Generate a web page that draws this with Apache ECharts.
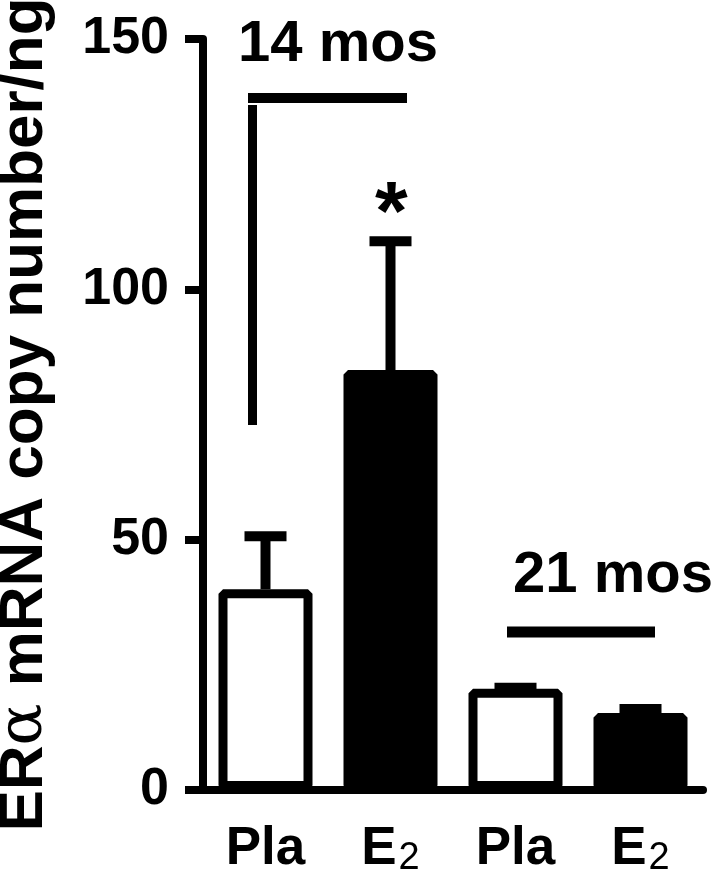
<!DOCTYPE html>
<html>
<head>
<meta charset="utf-8">
<script src="https://cdn.jsdelivr.net/npm/echarts@6/dist/echarts.min.js"></script>
<style>
  html, body { margin: 0; padding: 0; background: #fff; }
  #chart { width: 720px; height: 872px; }
</style>
</head>
<body>
<div id="chart"></div>
<script>
// groups: 14 months (Pla, E2), 21 months (Pla, E2)
var categories = ['Pla', 'E2', 'Pla', 'E2'];
var means = [40.1, 83.9, 20.2, 15.4];
var upper = [50.7, 109.6, 20.4, 16.2];   // mean + SEM
var yTicks = [0, 50, 100, 150];

var FONT = 'Liberation Sans, Arial, sans-serif';

var barData = means.map(function (v, i) {
    var filled = categories[i] === 'E2';
    return {
        value: v,
        itemStyle: { color: filled ? '#000' : '#fff' }
    };
});

var errData = means.map(function (v, i) {
    return [i, v, upper[i]];
});

var chart = echarts.init(document.getElementById('chart'));

chart.setOption({
    animation: false,
    textStyle: { fontFamily: FONT, color: '#000' },
    grid: { left: 203, right: 17, top: 39, bottom: 82, containLabel: false, outerBoundsMode: 'none' },
    xAxis: {
        type: 'category',
        data: categories,
        axisLine: { lineStyle: { color: '#000', width: 8 } },
        axisTick: { alignWithLabel: true, length: 18, lineStyle: { color: '#000', width: 8 } },
        axisLabel: {
            margin: 30,
            color: '#000',
            formatter: function (v) {
                return v === 'E2' ? '{b|E}{s|2}' : '{b|' + v + '}';
            },
            rich: {
                b: { fontSize: 53, fontWeight: 'bold', fontFamily: FONT, color: '#000', lineHeight: 58 },
                s: { fontSize: 38, fontWeight: 'normal', fontFamily: FONT, color: '#000',
                     lineHeight: 38, verticalAlign: 'bottom', padding: [0, 0, 0, 2] }
            }
        },
        splitLine: { show: false }
    },
    yAxis: {
        type: 'value',
        min: 0,
        max: 150,
        interval: 50,
        name: '{b|ER}{a|α}{b| mRNA copy number/ng}',
        nameLocation: 'middle',
        nameGap: 147,
        nameTextStyle: {
            rich: {
                b: { fontSize: 62, fontWeight: 'bold', fontFamily: FONT, color: '#000' },
                a: { fontSize: 62, fontWeight: 'normal', fontFamily: 'DejaVu Serif, serif', color: '#000' }
            }
        },
        axisLine: { show: true, lineStyle: { color: '#000', width: 8 } },
        axisTick: { show: true, length: 18, lineStyle: { color: '#000', width: 8 } },
        axisLabel: {
            margin: 34,
            fontSize: 52,
            fontWeight: 'bold',
            color: '#000',
            formatter: function (v) { return yTicks.indexOf(v) >= 0 ? String(v) : ''; }
        },
        splitLine: { show: false }
    },
    series: [
        {
            type: 'bar',
            data: barData,
            barWidth: 94,
            itemStyle: { borderColor: '#000', borderWidth: 9, borderJoin: 'bevel' },
            z: 3
        },
        {
            type: 'custom',
            data: errData,
            z: 4,
            renderItem: function (params, api) {
                var x = api.coord([api.value(0), api.value(1)])[0];
                var yLo = api.coord([api.value(0), api.value(1)])[1];
                var yHi = api.coord([api.value(0), api.value(2)])[1];
                var half = 21;
                return {
                    type: 'group',
                    children: [
                        { type: 'line', shape: { x1: x, y1: yLo, x2: x, y2: yHi },
                          style: { stroke: '#000', lineWidth: 10 } },
                        { type: 'line', shape: { x1: x - half, y1: yHi, x2: x + half, y2: yHi },
                          style: { stroke: '#000', lineWidth: 10 } }
                    ]
                };
            }
        }
    ],
    graphic: [
        { type: 'text', left: 238, top: 16,
          style: { text: '14 mos', font: 'bold 58px ' + FONT, fill: '#000' } },
        { type: 'line', shape: { x1: 248, y1: 98, x2: 407, y2: 98 },
          style: { stroke: '#000', lineWidth: 10 } },
        { type: 'line', shape: { x1: 252.5, y1: 105, x2: 252.5, y2: 425 },
          style: { stroke: '#000', lineWidth: 9 } },
        { type: 'text', left: 375, top: 175,
          style: { text: '*', font: 'bold 84px ' + FONT, fill: '#000' } },
        { type: 'text', left: 513, top: 547,
          style: { text: '21 mos', font: 'bold 58px ' + FONT, fill: '#000' } },
        { type: 'line', shape: { x1: 507, y1: 632, x2: 655, y2: 632 },
          style: { stroke: '#000', lineWidth: 11 } }
    ]
});
</script>
</body>
</html>
